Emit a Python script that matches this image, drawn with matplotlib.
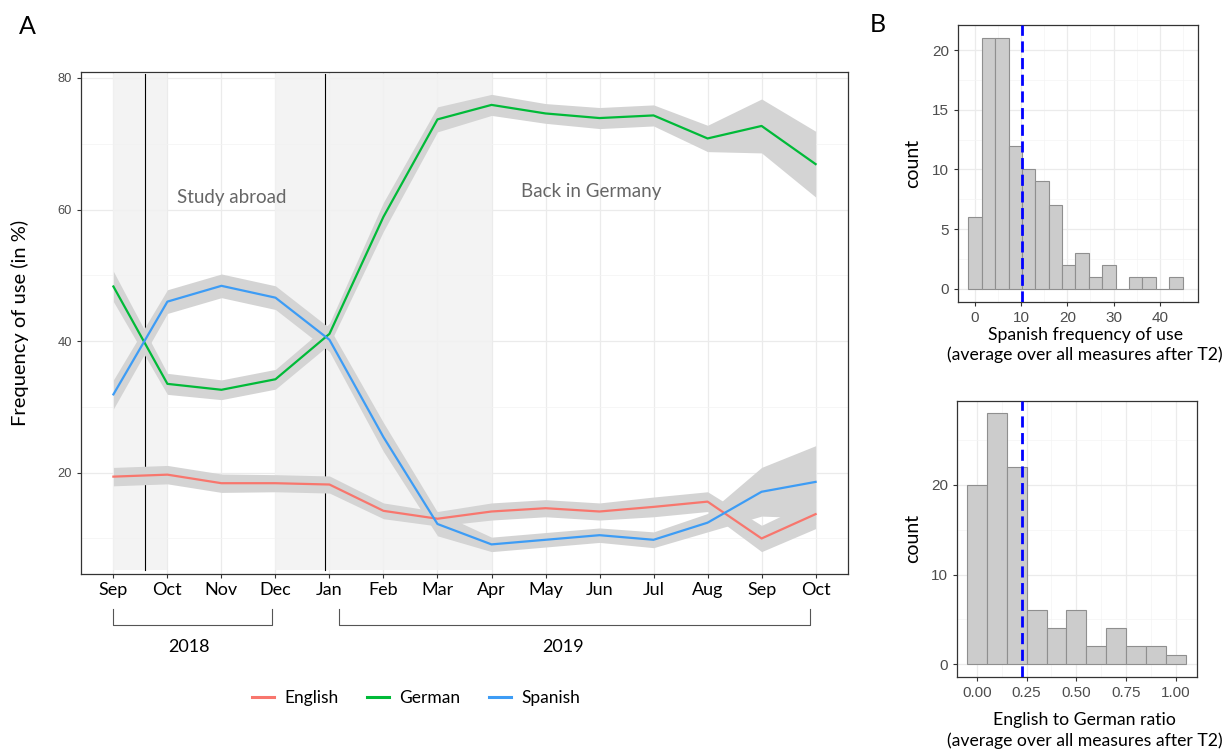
import matplotlib
matplotlib.use('Agg')
import matplotlib.pyplot as plt
import numpy as np
from matplotlib.ticker import MultipleLocator
import matplotlib.transforms as mtransforms

# ---- data: panel A (monthly frequency of use, %) ----
months = ['Sep', 'Oct', 'Nov', 'Dec', 'Jan', 'Feb', 'Mar', 'Apr',
          'May', 'Jun', 'Jul', 'Aug', 'Sep', 'Oct']
english = [19.4, 19.7, 18.4, 18.4, 18.2, 14.2, 13.0, 14.1, 14.6, 14.1, 14.8, 15.6, 10.0, 13.7]
german = [48.3, 33.5, 32.6, 34.2, 41.1, 58.9, 73.7, 75.9, 74.6, 73.9, 74.3, 70.8, 72.7, 66.9]
spanish = [31.9, 46.0, 48.4, 46.6, 40.2, 25.4, 12.2, 9.1, 9.8, 10.5, 9.8, 12.4, 17.1, 18.6]
# half widths of the grey ribbons
english_hw = [1.4, 1.4, 1.4, 1.3, 1.3, 1.2, 1.1, 1.3, 1.3, 1.3, 1.5, 1.5, 2.0, 2.2]
german_hw = [2.3, 1.6, 1.5, 1.5, 1.6, 2.2, 1.9, 1.6, 1.5, 1.6, 1.6, 2.0, 4.1, 5.0]
spanish_hw = [2.2, 1.8, 1.8, 1.8, 1.8, 2.2, 1.8, 1.1, 1.1, 1.1, 1.2, 1.4, 3.7, 5.5]

# ---- data: panel B histograms ----
spanish_counts = [6, 21, 21, 12, 10, 9, 7, 2, 3, 1, 2, 0, 1, 1, 0, 1]
spanish_binwidth = 2.9
spanish_mean = 10.2
ratio_counts = [20, 28, 22, 6, 4, 6, 2, 4, 2, 2, 1]
ratio_binwidth = 0.1
ratio_mean = 0.229

col_en = '#F8766D'
col_de = '#00BA38'
col_es = '#3D9CF5'
ribbon = '#d4d4d4'
shade = '#f1f1f1'
calibri = ['Lato', 'DejaVu Sans']
arial = ['Liberation Sans', 'DejaVu Sans']
tickgray = '#4d4d4d'

fig = plt.figure(figsize=(12.25, 7.51), dpi=100)

# ================= Panel A =================
ax = fig.add_axes([81/1225, 1-574/751, 767/1225, 502/751])
x = np.arange(len(months))
ax.set_xlim(-0.6, 13.6)
ax.set_ylim(4.6, 80.9)

ax.set_xticks(x)
ax.set_xticklabels(months, fontsize=13, family=calibri)
ax.set_yticks([20, 40, 60, 80])
ax.yaxis.set_minor_locator(MultipleLocator(10))
for lab in ax.get_yticklabels():
    lab.set_family(arial)
ax.tick_params(axis='y', labelsize=9.3, colors='#333333', labelcolor=tickgray, length=3, width=0.8)
ax.tick_params(axis='x', colors='#333333', labelcolor='black', length=3, width=0.8, pad=3)
ax.tick_params(which='minor', length=0)
ax.grid(True, which='major', color='#ebebeb', lw=0.9, zorder=0)
ax.grid(True, which='minor', axis='y', color='#f3f3f3', lw=0.5, zorder=0)
ax.set_axisbelow(True)
for s in ax.spines.values():
    s.set_color('#333333')
    s.set_linewidth(0.9)

# shaded periods
ax.fill_between([0, 1], 5.2, 80.6, color=shade, alpha=0.85, lw=0, zorder=1)
ax.fill_between([3, 7], 5.2, 80.6, color=shade, alpha=0.85, lw=0, zorder=1)
ax.plot([0.59, 0.59], [5.2, 80.6], color='black', lw=0.8, zorder=2)
ax.plot([3.91, 3.91], [5.2, 80.6], color='black', lw=0.8, zorder=2)

series = [(english, english_hw, col_en, 'English'),
          (german, german_hw, col_de, 'German'),
          (spanish, spanish_hw, col_es, 'Spanish')]
for vals, hw, c, name in series:
    v = np.array(vals)
    h = np.array(hw)
    ax.fill_between(x, v - h, v + h, color=ribbon, lw=0, zorder=3)
handles = []
for vals, hw, c, name in series:
    ln, = ax.plot(x, vals, color=c, lw=1.6, zorder=4, label=name)
    handles.append(ln)

ax.text(2.2, 61.9, 'Study abroad', ha='center', va='center', fontsize=13.5,
        color='#666666', family=calibri, zorder=5)
ax.text(8.85, 62.7, 'Back in Germany', ha='center', va='center', fontsize=13.5,
        color='#666666', family=calibri, zorder=5)

ax.set_ylabel('Frequency of use (in %)', fontsize=14.5, family=calibri)
ax.yaxis.set_label_coords(-61/767, 0.5)
ax.yaxis.label.set_va('center')

# year brackets below the axis
trans = mtransforms.blended_transform_factory(ax.transData, ax.transAxes)
y_top, y_bot = -0.07, -0.102
for x0, x1 in [(0, 2.94), (4.17, 12.89)]:
    ax.plot([x0, x0, x1, x1], [y_top, y_bot, y_bot, y_top], color='#555555',
            lw=0.8, transform=trans, clip_on=False)
ax.text(1.39, -0.145, '2018', transform=trans, ha='center', va='center',
        fontsize=13, family=calibri)
ax.text(8.33, -0.145, '2019', transform=trans, ha='center', va='center',
        fontsize=13, family=calibri)

leg = fig.legend(handles=handles, loc='center', bbox_to_anchor=(416/1225, 1-698/751),
                 ncol=3, frameon=False, handlelength=1.3, handletextpad=0.6,
                 columnspacing=1.6, prop={'family': calibri, 'size': 12.5})
for h in leg.legend_handles:
    h.set_linewidth(2.2)

fig.text(27/1225, 1-27/751, 'A', fontsize=18, family=calibri, ha='center', va='center')
fig.text(878/1225, 1-25/751, 'B', fontsize=18, family=calibri, ha='center', va='center')


def style_hist(a):
    a.tick_params(axis='both', labelsize=11, colors='#333333', labelcolor=tickgray,
                  length=3, width=0.8)
    a.tick_params(which='minor', length=0)
    for lab in a.get_xticklabels() + a.get_yticklabels():
        lab.set_family(arial)
    a.grid(True, which='major', color='#ebebeb', lw=0.9)
    a.grid(True, which='minor', color='#f4f4f4', lw=0.5)
    a.set_axisbelow(True)
    for s in a.spines.values():
        s.set_color('#333333')
        s.set_linewidth(0.9)


# ================= Panel B top =================
bt = fig.add_axes([958/1225, 1-302/751, 240/1225, 277/751])
centers = np.arange(len(spanish_counts)) * spanish_binwidth
bt.bar(centers, spanish_counts, width=spanish_binwidth, color='#cccccc',
       edgecolor='#8f8f8f', lw=0.8, zorder=2)
bt.axvline(spanish_mean, color='#0000ff', lw=2, linestyle=(0, (4, 2)), zorder=3)
bt.set_xlim(-3.7, 48.3)
bt.set_ylim(-1.1, 22.1)
bt.set_xticks([0, 10, 20, 30, 40])
bt.set_yticks([0, 5, 10, 15, 20])
bt.xaxis.set_minor_locator(MultipleLocator(5))
bt.yaxis.set_minor_locator(MultipleLocator(2.5))
style_hist(bt)
bt.set_ylabel('count', fontsize=14, family=calibri)
bt.yaxis.set_label_coords(-45/240, 0.5)
bt.yaxis.label.set_va('center')
bt.set_xlabel('Spanish frequency of use\n(average over all measures after T2)',
              fontsize=12.7, family=calibri, linespacing=1.3)
bt.xaxis.set_label_coords(0.53, -0.155)
bt.xaxis.label.set_va('center')

# ================= Panel B bottom =================
bb = fig.add_axes([957/1225, 1-676.7/751, 240/1225, 276/751])
rcenters = np.arange(len(ratio_counts)) * ratio_binwidth
bb.bar(rcenters, ratio_counts, width=ratio_binwidth, color='#cccccc',
       edgecolor='#8f8f8f', lw=0.8, zorder=2)
bb.axvline(ratio_mean, color='#0000ff', lw=2, linestyle=(0, (4, 2)), zorder=3)
bb.set_xlim(-0.099, 1.105)
bb.set_ylim(-1.4, 29.4)
bb.set_xticks([0, 0.25, 0.5, 0.75, 1.0])
bb.set_xticklabels(['0.00', '0.25', '0.50', '0.75', '1.00'])
bb.set_yticks([0, 10, 20])
bb.xaxis.set_minor_locator(MultipleLocator(0.125))
bb.yaxis.set_minor_locator(MultipleLocator(5))
style_hist(bb)
bb.set_ylabel('count', fontsize=14, family=calibri)
bb.yaxis.set_label_coords(-44/240, 0.5)
bb.yaxis.label.set_va('center')
bb.set_xlabel('English to German ratio\n(average over all measures after T2)',
              fontsize=12.7, family=calibri, linespacing=1.3)
bb.xaxis.set_label_coords(0.533, -0.195)
bb.xaxis.label.set_va('center')

fig.savefig('out.png', dpi=100)
